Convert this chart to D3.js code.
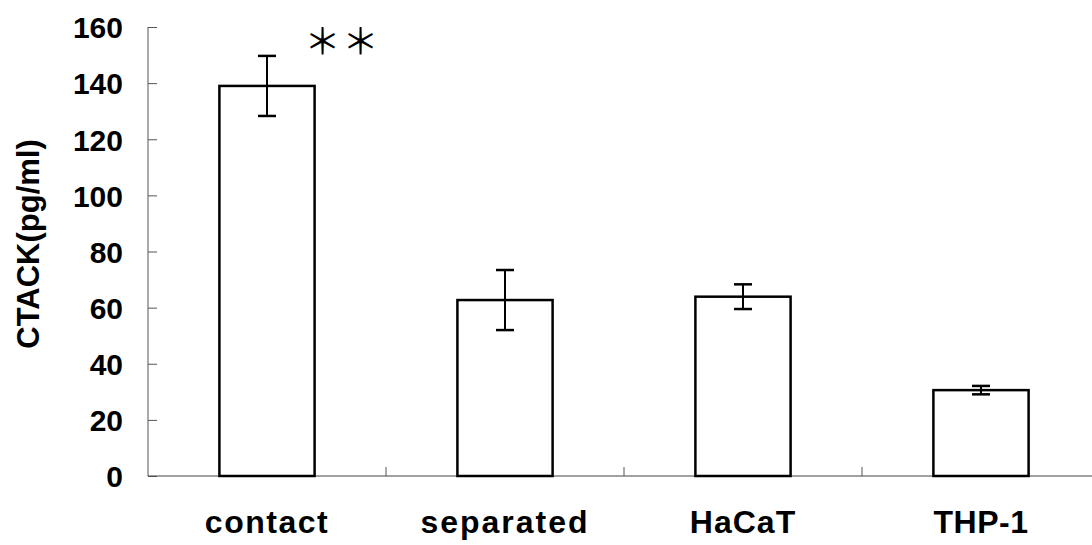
<!DOCTYPE html>
<html>
<head>
<meta charset="utf-8">
<script src="https://cdn.jsdelivr.net/npm/d3@7"></script>
<style>
  body { margin: 0; background: #fff; }
  text { font-family: "Liberation Sans", Arial, sans-serif; font-weight: bold; fill: #000; }
</style>
</head>
<body>
<svg id="chart" width="1092" height="545"></svg>
<script>
  // data
  var groups = ["contact", "separated", "HaCaT", "THP-1"];
  var means = [139, 62.7, 63.9, 30.6];
  var errs = [10.7, 10.7, 4.4, 1.5];
  var yTicks = [0, 20, 40, 60, 80, 100, 120, 140, 160];

  var svg = d3.select("#chart");
  var mLeft = 148, mRight = 1100, mTop = 27, mBottom = 476;

  var x = d3.scaleBand().domain(groups).range([mLeft, mRight]).paddingInner(0.6).paddingOuter(0.3);
  var y = d3.scaleLinear().domain([0, 160]).range([mBottom, mTop]);

  //y axis, ticks pointing inward
  var yAxis = svg.append("g")
      .attr("transform", "translate(" + mLeft + ",0)")
      .call(d3.axisRight(y).tickValues(yTicks).tickSize(9).tickFormat(""));
  yAxis.select(".domain").attr("d", "M0," + mTop + "V" + mBottom).attr("stroke", "#555");
  yAxis.selectAll(".tick line").attr("stroke", "#555");

  yAxis.selectAll(".tick").append("text")
      .attr("x", -25)
      .attr("dy", "0.36em")
      .attr("text-anchor", "end")
      .style("font-size", "30px")
      .text(function(d) { return d; });

  //x axis line and boundary ticks between groups
  var step = x.step();
  var mid = function(d) { return x(d) + x.bandwidth() / 2; };
  svg.append("line")
      .attr("x1", mLeft).attr("x2", mRight)
      .attr("y1", mBottom).attr("y2", mBottom)
      .attr("stroke", "#444").attr("stroke-width", 1.2);
  svg.selectAll(".xtick").data(groups.slice(1))
    .enter().append("line")
      .attr("class", "xtick")
      .attr("x1", function(d) { return mid(d) - step / 2; })
      .attr("x2", function(d) { return mid(d) - step / 2; })
      .attr("y1", mBottom).attr("y2", mBottom - 9)
      .attr("stroke", "#555");

  //bars
  svg.selectAll(".bar").data(groups)
    .enter().append("rect")
      .attr("class", "bar")
      .attr("x", function(d) { return x(d); })
      .attr("y", function(d, i) { return y(means[i]); })
      .attr("width", x.bandwidth())
      .attr("height", function(d, i) { return mBottom - y(means[i]); })
      .attr("fill", "#fff")
      .attr("stroke", "#000")
      .attr("stroke-width", 2.5);

  //error bars
  var cap = 9;
  var eb = svg.selectAll(".err").data(groups).enter().append("g").attr("class", "err");
  eb.append("line")
      .attr("x1", mid)
      .attr("x2", mid)
      .attr("y1", function(d, i) { return y(means[i] + errs[i]); })
      .attr("y2", function(d, i) { return y(means[i] - errs[i]); })
      .attr("stroke", "#000").attr("stroke-width", 2);
  eb.selectAll(".cap")
      .data(function(d, i) { return [[d, means[i] + errs[i]], [d, means[i] - errs[i]]]; })
    .enter().append("line")
      .attr("x1", function(c) { return mid(c[0]) - cap; })
      .attr("x2", function(c) { return mid(c[0]) + cap; })
      .attr("y1", function(c) { return y(c[1]); })
      .attr("y2", function(c) { return y(c[1]); })
      .attr("stroke", "#000").attr("stroke-width", 2.5);

  //category labels (the original font is a bit wider)
  var spacing = { "contact": 1.5, "separated": 2, "HaCaT": 1, "THP-1": 0.5 };
  svg.selectAll(".xlab").data(groups)
    .enter().append("text")
      .attr("x", mid)
      .attr("y", 533)
      .attr("text-anchor", "middle")
      .style("font-size", "32px")
      .style("letter-spacing", function(d) { return spacing[d] + "px"; })
      .text(function(d) { return d; });

  //y title
  svg.append("text")
      .attr("transform", "translate(39,244) rotate(-90)")
      .attr("text-anchor", "middle")
      .style("font-size", "31px")
      .text("CTACK(pg/ml)");

  //significance marks
  svg.selectAll(".star").data([0, 1])
    .enter().append("text")
      .attr("class", "star")
      .attr("x", function(k) { return x("contact") + x.bandwidth() + 8 + k * 38; })
      .attr("y", 55)
      .attr("text-anchor", "middle")
      .style("font-family", "'Noto Sans CJK JP', 'DejaVu Sans', sans-serif")
      .style("font-weight", "normal")
      .style("font-size", "36px")
      .text("＊");
</script>
</body>
</html>
